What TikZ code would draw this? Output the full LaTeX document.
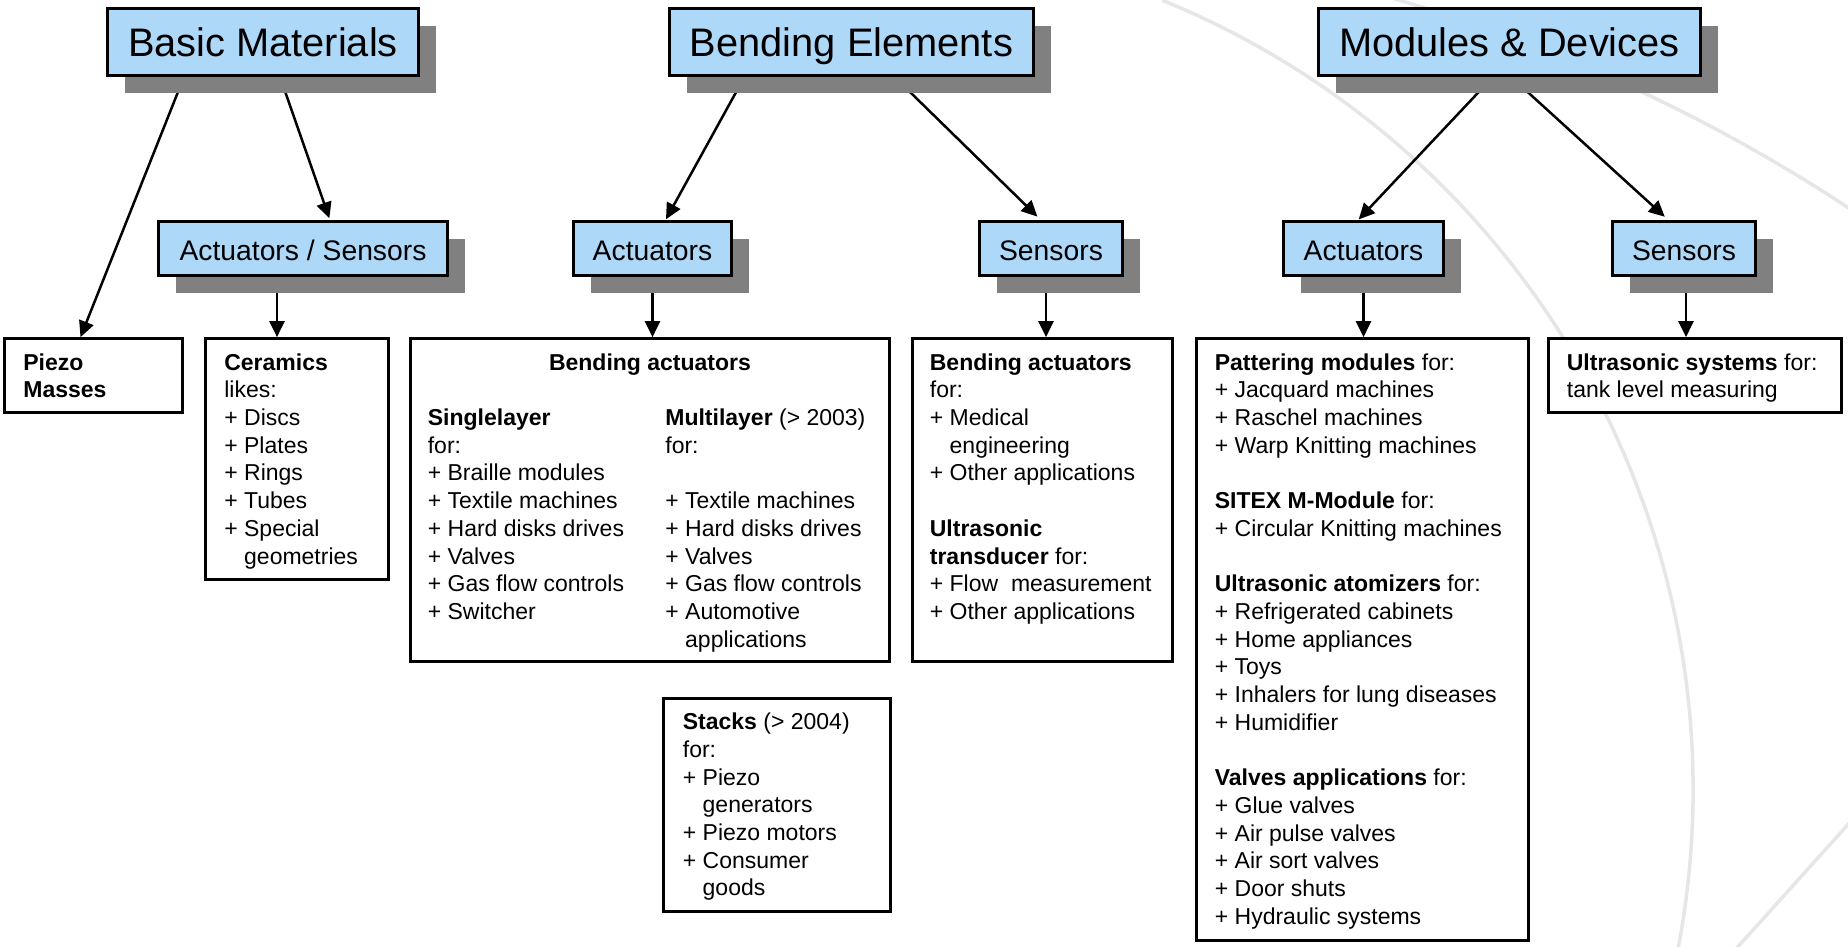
\documentclass[tikz,border=0pt]{standalone}
\usepackage{fontspec}
\setmainfont{Liberation Sans}
\usetikzlibrary{arrows.meta,shadows,calc}
\definecolor{hdrblue}{RGB}{173,216,248}
\definecolor{shadowgray}{RGB}{128,128,128}
\definecolor{arcgray}{RGB}{230,230,230}
\pgfdeclarelayer{background}
\pgfsetlayers{background,main}
\newcommand\bodyfont{\fontsize{23}{27.7}\selectfont}
\newcommand\ind{\hphantom{+\ }}
\newcommand\gap{\\[27.7pt]}
\begin{document}
\begin{tikzpicture}[x=1pt,y=1pt,
  hdr/.style={draw, line width=2.7pt, fill=hdrblue, inner sep=0pt,
    drop shadow={shadow xshift=17pt, shadow yshift=-17pt, fill=shadowgray, opacity=1}},
  big/.style={hdr, minimum height=67pt, font=\fontsize{39.8}{46}\selectfont, text height=30pt, text depth=2pt},
  sub/.style={hdr, minimum height=54pt, font=\fontsize{28.3}{34}\selectfont, text height=24pt, text depth=1pt},
  lbox/.style={draw, line width=2.7pt, fill=white, inner sep=0pt},
  txt/.style={inner sep=0pt, anchor=base west, font=\bodyfont},
  arr/.style={line width=2.5pt, -{Triangle[length=16pt,width=15pt]}},
  arcline/.style={draw=arcgray, line width=3.5pt}]

\useasboundingbox (0,0) rectangle (1848,-946);

% header boxes
\node[big, minimum width=311pt] (bm) at (263,-42) {Basic Materials};
\node[big, minimum width=364pt] (be) at (851.5,-42) {Bending Elements};
\node[big, minimum width=382pt] (md) at (1509.5,-42) {Modules \& Devices};

% second level
\node[sub, minimum width=289pt] (as) at (303,-248.5) {Actuators / Sensors};
\node[sub, minimum width=158pt] (ba) at (652.5,-248.5) {Actuators};
\node[sub, minimum width=143pt] (bs) at (1051,-248.5) {Sensors};
\node[sub, minimum width=160pt] (ma) at (1363.5,-248.5) {Actuators};
\node[sub, minimum width=143pt] (ms) at (1684,-248.5) {Sensors};

% lower boxes
\node[lbox, minimum width=178pt, minimum height=74pt] (pm) at (93.5,-375.5) {};
\node[lbox, minimum width=183pt, minimum height=241pt] (cer) at (297,-459) {};
\node[lbox, minimum width=479pt, minimum height=323pt] (bact) at (650,-500) {};
\node[lbox, minimum width=227pt, minimum height=213pt] (stk) at (777,-805) {};
\node[lbox, minimum width=260pt, minimum height=323pt] (sens) at (1042.5,-500) {};
\node[lbox, minimum width=332pt, minimum height=602pt] (pat) at (1362.5,-639.5) {};
\node[lbox, minimum width=293pt, minimum height=74pt] (ult) at (1695,-375.5) {};

% texts
\node[txt] (pmt) at ($(pm.north west)+(20,-33)$)
  {\parbox[t]{150pt}{\textbf{Piezo}\\\textbf{Masses}}};
\node[txt] (cert) at ($(cer.north west)+(20,-33)$)
  {\parbox[t]{160pt}{\textbf{Ceramics}\\likes:\\+ Discs\\+ Plates\\+ Rings\\+ Tubes\\+ Special\\\ind geometries}};
\node[inner sep=0pt, anchor=base, font=\bodyfont] (bactt) at ($(bact.north)+(0,-33)$)
  {\textbf{Bending actuators}};
\node[txt] (bactl) at ($(bact.north west)+(18.5,-88.4)$)
  {\parbox[t]{230pt}{\textbf{Singlelayer}\\for:\\+ Braille modules\\+ Textile machines\\+ Hard disks drives\\+ Valves\\+ Gas flow controls\\+ Switcher}};
\node[txt] (bactr) at ($(bact.north west)+(256,-88.4)$)
  {\parbox[t]{220pt}{\textbf{Multilayer} (> 2003)\\for:\gap+ Textile machines\\+ Hard disks drives\\+ Valves\\+ Gas flow controls\\+ Automotive\\\ind applications}};
\node[txt] (stkt) at ($(stk.north west)+(20.5,-32.5)$)
  {\parbox[t]{200pt}{\textbf{Stacks} (> 2004)\\for:\\+ Piezo\\\ind generators\\+ Piezo motors\\+ Consumer\\\ind goods}};
\node[txt] (senst) at ($(sens.north west)+(18.5,-33)$)
  {\parbox[t]{240pt}{\textbf{Bending actuators}\\for:\\+ Medical\\\ind engineering\\+ Other applications\gap\textbf{Ultrasonic}\\\textbf{transducer} for:\\+ Flow\ \ measurement\\+ Other applications}};
\node[txt] (patt) at ($(pat.north west)+(19.5,-33)$)
  {\parbox[t]{310pt}{\textbf{Pattering modules} for:\\+ Jacquard machines\\+ Raschel machines\\+ Warp Knitting machines\gap\textbf{SITEX M-Module} for:\\+ Circular Knitting machines\gap\textbf{Ultrasonic atomizers} for:\\+ Refrigerated cabinets\\+ Home appliances\\+ Toys\\+ Inhalers for lung diseases\\+ Humidifier\gap\textbf{Valves applications} for:\\+ Glue valves\\+ Air pulse valves\\+ Air sort valves\\+ Door shuts\\+ Hydraulic systems}};
\node[txt] (ultt) at ($(ult.north west)+(19.5,-33)$)
  {\parbox[t]{270pt}{\textbf{Ultrasonic systems} for:\\tank level measuring}};

\coordinate (asx) at ($(as.south)+(-26,0)$);
\coordinate (bsx) at ($(bs.south)+(-5,0)$);
\coordinate (msx) at ($(ms.south)+(2,0)$);

\begin{pgfonlayer}{background}
  % watermark arcs
  \draw[arcline] ([shift={(67.8:853)}]840,-790) arc[start angle=67.8, end angle=-11, radius=853pt];
  \draw[arcline] ([shift={(74:1661)}]935,-1595) arc[start angle=74, end angle=56.4, radius=1661pt];
  \draw[arcline] (1852,-820) -- (1735,-950);
  % connectors
  \draw[arr] ($(bm.south)+(-79,0)$) -- ($(pm.north)+(-13,0)$);
  \draw[arr, shorten >=2pt] ($(bm.south)+(17,0)$) -- ($(as.north)+(27,0)$);
  \draw[arr, shorten >=1pt] ($(be.south)+(-107,0)$) -- ($(ba.north)+(13,0)$);
  \draw[arr, shorten >=5pt] ($(be.south)+(43,0)$) -- ($(bs.north)+(-10,0)$);
  \draw[arr, shorten >=1pt] ($(md.south)+(-16.5,0)$) -- ($(ma.north)+(-5.5,0)$);
  \draw[arr, shorten >=5pt] ($(md.south)+(1.5,0)$) -- ($(ms.north)+(-15.5,0)$);
  \draw[arr] (asx) -- (asx |- cer.north);
  \draw[arr] (ba.south) -- (ba.south |- bact.north);
  \draw[arr] (bsx) -- (bsx |- sens.north);
  \draw[arr] (ma.south) -- (ma.south |- pat.north);
  \draw[arr] (msx) -- (msx |- ult.north);
\end{pgfonlayer}
\end{tikzpicture}
\end{document}
